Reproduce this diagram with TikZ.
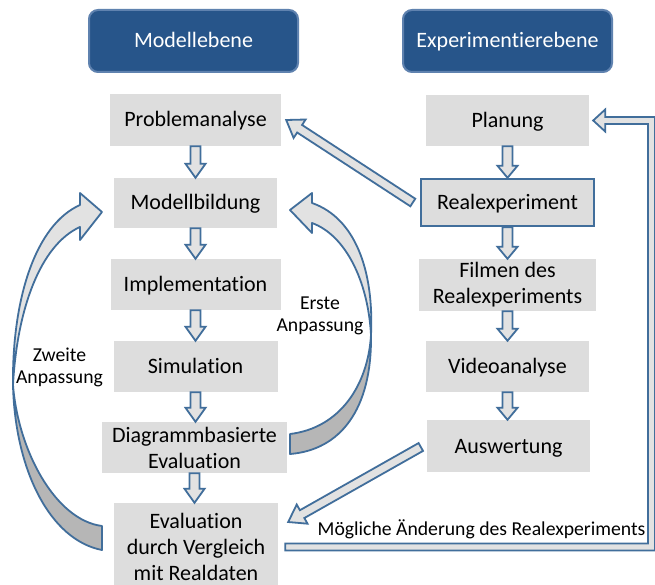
\documentclass[tikz,border=0pt]{standalone}
\usepackage{fontspec}
\setmainfont{Carlito}[Ligatures=NoCommon]
\usetikzlibrary{calc}
\definecolor{hdrfill}{RGB}{39,85,138}
\definecolor{hdrline}{RGB}{95,130,175}
\definecolor{boxfill}{RGB}{221,221,221}
\definecolor{arrblue}{RGB}{65,110,155}
\definecolor{arrlight}{RGB}{226,226,226}
\definecolor{arrdark}{RGB}{182,182,182}
\newcommand\blkarrow[5]{%
  \coordinate (ba-s) at (#1);
  \coordinate (ba-e) at (#2);
  \coordinate (ba-h) at ($(ba-e)!#5!(ba-s)$);
  \draw[blockarrow] ($(ba-s)!#3!90:(ba-e)$) -- ($(ba-h)!#3!90:(ba-e)$) -- ($(ba-h)!#4!90:(ba-e)$) -- (ba-e) -- ($(ba-h)!#4!-90:(ba-e)$) -- ($(ba-h)!#3!-90:(ba-e)$) -- ($(ba-s)!#3!-90:(ba-e)$) -- cycle;
}
\tikzset{
  box/.style={fill=boxfill, inner sep=0pt, align=center, font=\fontsize{22}{26}\selectfont},
  one/.style={text height=17pt, text depth=3pt},
  hdr/.style={fill=hdrfill, draw=hdrline, line width=2pt, rounded corners=9pt, text=white, inner sep=0pt, minimum width=209pt, minimum height=62pt, font=\fontsize{22}{26}\selectfont, text height=17pt, text depth=3pt},
  lbl/.style={inner sep=0pt, align=center, font=\fontsize{19.7}{22}\selectfont},
  blockarrow/.style={draw=arrblue, fill=arrlight, line width=1.8pt, line join=miter},
  curvarr/.style={draw=arrblue, line width=1.8pt, line join=round},
}
\begin{document}
\begin{tikzpicture}[x=1pt, y=-1pt]
\useasboundingbox (0,0) rectangle (655,585);
\fill[white] (0,0) rectangle (655,585);

% headers
\node[hdr] (hm) at (193.5,41) {Modellebene};
\node[hdr] (he) at (507.5,41) {Experimentierebene};

% left column
\node[box, one, minimum width=171pt, minimum height=52pt] (pa) at (195.5,120) {Problemanalyse};
\node[box, one, minimum width=163pt, minimum height=50pt] (mb) at (195.5,203) {Modellbildung};
\node[box, one, minimum width=170pt, minimum height=51pt] (im) at (195.5,284.5) {Implementation};
\node[box, one, minimum width=164pt, minimum height=51pt] (si) at (195.5,366.5) {Simulation};
\node[box, minimum width=185pt, minimum height=51pt] (de) at (194.5,447.5) {Diagrammbasierte\\Evaluation};
\node[box, minimum width=164pt, minimum height=88pt] (ev) at (196,547) {Evaluation\\durch Vergleich\\mit Realdaten};

% right column
\node[box, one, minimum width=163pt, minimum height=51pt] (pl) at (507.5,120.5) {Planung};
\node[box, one, draw=arrblue, line width=2.4pt, minimum width=173pt, minimum height=47pt] (re) at (507.5,202.5) {Realexperiment};
\node[box, minimum width=177pt, minimum height=52pt] (fi) at (507.5,285) {Filmen des\\Realexperiments};
\node[box, one, minimum width=163pt, minimum height=51pt] (va) at (507.5,366.5) {Videoanalyse};
\node[box, one, minimum width=163pt, minimum height=52pt] (au) at (508.5,446) {Auswertung};

% vertical block arrows
\blkarrow{pa.south}{pa.south |- mb.north}{5pt}{10pt}{14pt}
\blkarrow{mb.south}{mb.south |- im.north}{5pt}{10pt}{14pt}
\blkarrow{im.south}{im.south |- si.north}{5pt}{10pt}{14pt}
\blkarrow{si.south}{si.south |- de.north}{5pt}{10pt}{14pt}
\blkarrow{de.south}{de.south |- ev.north}{5pt}{10pt}{14pt}
\blkarrow{pl.south}{pl.south |- re.north}{5pt}{10pt}{12pt}
\blkarrow{re.south}{re.south |- fi.north}{5pt}{10pt}{12pt}
\blkarrow{fi.south}{fi.south |- va.north}{5pt}{10pt}{12pt}
\blkarrow{va.south}{va.south |- au.north}{5pt}{10pt}{12pt}

% diagonal block arrows
\blkarrow{$(re.west)+(-7,0)$}{$(pa.east)+(5,0)$}{4.5pt}{11pt}{16pt}
\blkarrow{$(au.west)+(-6,1)$}{$(ev.east)+(10,-25)$}{4.5pt}{11pt}{16pt}

% elbow arrow: Evaluation -> Planung
\coordinate (e0) at ($(ev.east)+(7,0)$);
\coordinate (e3) at ($(pl.east)+(4,0)$);
\coordinate (cr) at (651.5,0);
\draw[blockarrow] ($(e0)+(0,-3.5)$) -- ($(cr |- e0)+(-3.5,-3.5)$) -- ($(cr |- e3)+(-3.5,3.5)$)
  -- ($(e3)+(12,3.5)$) -- ($(e3)+(12,11)$) -- (e3) -- ($(e3)+(12,-11)$) -- ($(e3)+(12,-3.5)$)
  -- ($(cr |- e3)+(3.5,-3.5)$) -- ($(cr |- e0)+(3.5,3.5)$) -- ($(e0)+(0,3.5)$) -- cycle;
\node[lbl, anchor=base] (lm) at (481.5,535) {Mögliche Änderung des Realexperiments};

% curved arrow: Zweite Anpassung
\draw[curvarr, fill=arrdark] (13,385) .. controls (15,470) and (50,540) .. (102,550) -- (102,526) .. controls (55,520) and (18,450) .. (13,385) -- cycle;
\draw[curvarr, fill=arrlight] (13,385) .. controls (12,300) and (35,225) .. (80,205) -- (80,193) -- (102,212) -- (80,240) -- (80,227) .. controls (40,245) and (17,310) .. (13,385) -- cycle;
\node[lbl] (l2) at (59.5,367.5) {Zweite\\Anpassung};

% curved arrow: Erste Anpassung
\draw[curvarr, fill=arrdark] (371,335) .. controls (372,410) and (340,450) .. (290,454) -- (290,434) .. controls (340,428) and (368,385) .. (371,335) -- cycle;
\draw[curvarr, fill=arrlight] (371,335) .. controls (374,270) and (355,218) .. (312,203) -- (312,193) -- (290,210) -- (312,233) -- (312,223) .. controls (345,235) and (368,280) .. (371,335) -- cycle;
\node[lbl] (l1) at (320,315.5) {Erste\\Anpassung};
\end{tikzpicture}
\end{document}
